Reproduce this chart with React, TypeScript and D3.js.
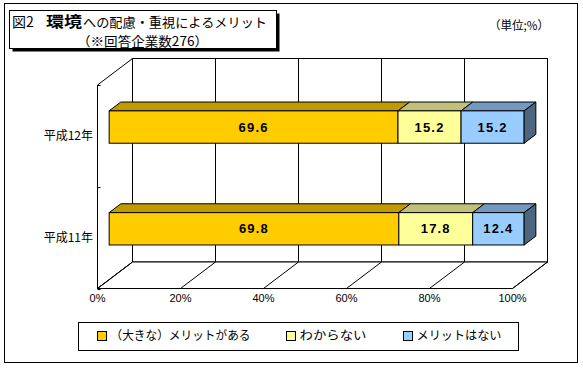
import React from "react";
import * as d3 from "d3";

const categories = ["平成12年", "平成11年"];
const seriesNames = ["（大きな）メリットがある", "わからない", "メリットはない"];
const bigMerit = [69.6, 69.8];
const unknown = [15.2, 17.8];
const noMerit = [15.2, 12.4];
const xTicks = [0, 20, 40, 60, 80, 100];

const fronts = ["#FFCC00", "#FFFF99", "#99CCFF"];
const tops = ["#BF9B00", "#C0C07A", "#7399C0"];
const sides = ["#806600", "#80804C", "#4C6680"];

const JP = "'Noto Sans CJK JP', 'Noto Sans', sans-serif";
const NUM = "'Liberation Sans', Arial, sans-serif";

export default function App() {
  const W = 583, H = 368;
  const DX = 35, DY = -26.5;
  const d0 = 0.333, d1 = 0.667;
  const x = d3.scaleLinear().domain([0, 100]).range([97.5, 512.5]);
  const y = d3.scaleBand<string>().domain(categories).range([85, 288.5]).paddingInner(0.682).paddingOuter(0.341);
  const bw = y.bandwidth();

  const table = categories.map((c, i) => ({ cat: c, s0: bigMerit[i], s1: unknown[i], s2: noMerit[i] }));
  const stack = d3.stack<any>().keys(["s0", "s1", "s2"]);
  const layers = stack(table);

  const x0 = x(0), x1 = x(100);
  const yTop = 85, yBot = 288.5;
  const pts = (arr: number[][]) => arr.map(p => p.join(",")).join(" ");

  const bars: React.ReactNode[] = [];
  categories.forEach((c, ci) => {
    const fy = (y(c) as number) + d0 * DY;
    const ddx = (d1 - d0) * DX, ddy = (d1 - d0) * DY;
    layers.forEach((layer, si) => {
      const [a, b] = layer[ci];
      const fx0 = x(a) + d0 * DX, fx1 = x(b) + d0 * DX;
      bars.push(
        <polygon key={`t${ci}${si}`} points={pts([[fx0, fy], [fx1, fy], [fx1 + ddx, fy + ddy], [fx0 + ddx, fy + ddy]])}
          fill={tops[si]} stroke="#000" strokeWidth={1} strokeLinejoin="round" />
      );
      bars.push(
        <rect key={`f${ci}${si}`} x={fx0} y={fy} width={fx1 - fx0} height={bw} fill={fronts[si]} stroke="#000" strokeWidth={1} />
      );
      if (si === layers.length - 1) {
        bars.push(
          <polygon key={`s${ci}`} points={pts([[fx1, fy], [fx1 + ddx, fy + ddy], [fx1 + ddx, fy + bw + ddy], [fx1, fy + bw]])}
            fill={sides[si]} stroke="#000" strokeWidth={1} strokeLinejoin="round" />
        );
      }
      bars.push(
        <text key={`l${ci}${si}`} x={(fx0 + fx1) / 2} y={fy + bw / 2} dy="0.36em" textAnchor="middle"
          fontFamily={NUM} fontWeight="bold" fontSize={13} letterSpacing={1.2} fill="#000">
          {(b - a).toFixed(1)}
        </text>
      );
    });
  });

  return (
    <svg width={W} height={H} style={{ position: "absolute", left: 0, top: 0, background: "#fff" }}>
      <rect x={0} y={0} width={W} height={H} fill="#fff" />
      <rect x={4.5} y={3.5} width={573} height={359} fill="#fff" stroke="#000" strokeWidth={1} />

      {/* title box */}
      <rect x={12.5} y={13.5} width={267} height={38} fill="#000" />
      <rect x={9.5} y={10.5} width={267} height={38} fill="#fff" stroke="#000" strokeWidth={1} />
      <text x={12} y={22} dy="0.36em" fontFamily={JP} fontSize={14} fill="#000">
        <tspan>図2</tspan>
        <tspan x={46} fontWeight="bold" fontSize={15} textLength={36} lengthAdjust="spacingAndGlyphs">環境</tspan>
        <tspan x={83} fontSize={13} textLength={184} lengthAdjust="spacingAndGlyphs">への配慮・重視によるメリット</tspan>
      </text>
      <text x={77} y={41} dy="0.36em" fontFamily={JP} fontSize={13} fill="#000" textLength={131} lengthAdjust="spacingAndGlyphs">
        （※回答企業数276）
      </text>
      <text x={489} y={26} dy="0.36em" fontFamily={JP} fontSize={12} fill="#000" textLength={60} lengthAdjust="spacingAndGlyphs">
        （単位;%）
      </text>

      {/* walls */}
      <rect x={x0 + DX} y={yTop + DY} width={x1 - x0} height={yBot - yTop} fill="#fff" stroke="#000" strokeWidth={1} />
      {xTicks.map(t => (
        <line key={`g${t}`} x1={x(t) + DX} x2={x(t) + DX} y1={yTop + DY} y2={yBot + DY} stroke="#000" strokeWidth={1} />
      ))}
      <polygon points={pts([[x0, yTop], [x0 + DX, yTop + DY], [x0 + DX, yBot + DY], [x0, yBot]])} fill="#fff" stroke="#000" strokeWidth={1} />
      <polygon points={pts([[x0, yBot], [x1, yBot], [x1 + DX, yBot + DY], [x0 + DX, yBot + DY]])} fill="#fff" stroke="#000" strokeWidth={1} />
      {xTicks.map(t => (
        <line key={`d${t}`} x1={x(t)} y1={yBot} x2={x(t) + DX} y2={yBot + DY} stroke="#000" strokeWidth={1} />
      ))}
      {[0, 1, 2].map(i => {
        const yy = yTop + i * y.step();
        return <line key={`ct${i}`} x1={x0} x2={x0 + 3} y1={Math.round(yy) + 0.5} y2={Math.round(yy) + 0.5} stroke="#000" strokeWidth={1} />;
      })}

      {bars}

      {/* category labels */}
      {categories.map(c => (
        <text key={c} x={93} y={(y(c) as number) + bw / 2} dy="0.36em" textAnchor="end" fontFamily={JP} fontSize={12} fill="#000">
          {c}
        </text>
      ))}
      {/* x tick labels */}
      {xTicks.map(t => (
        <text key={`xl${t}`} x={x(t)} y={298} dy="0.36em" textAnchor="middle" fontFamily={NUM} fontSize={11} fill="#000">
          {t}%
        </text>
      ))}

      {/* legend */}
      <rect x={78.5} y={322.5} width={440} height={28} fill="#fff" stroke="#000" strokeWidth={1} />
      {seriesNames.map((n, i) => {
        const sx = [97.5, 286.5, 403.5][i];
        const tw = [140, 67, 85][i];
        return (
          <g key={n}>
            <rect x={sx} y={331.5} width={9} height={9} fill={fronts[i]} stroke="#000" strokeWidth={1} />
            <text x={sx + 13} y={336} dy="0.36em" fontFamily={JP} fontSize={12} fill="#000" textLength={tw} lengthAdjust="spacingAndGlyphs">
              {n}
            </text>
          </g>
        );
      })}
    </svg>
  );
}
